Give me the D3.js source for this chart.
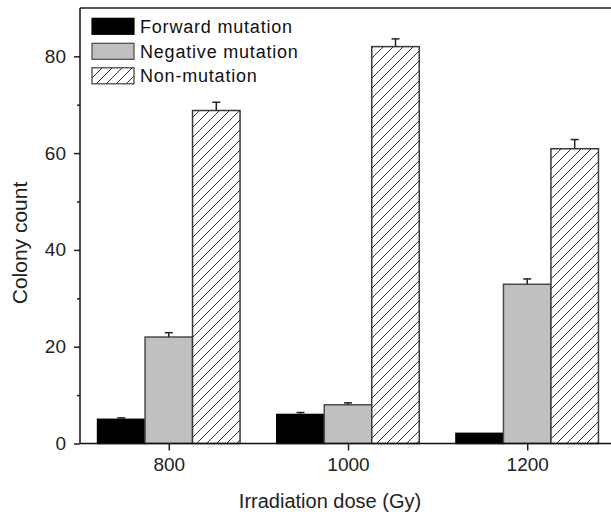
<!DOCTYPE html>
<html><head><meta charset="utf-8">
<script src="https://cdn.jsdelivr.net/npm/d3@7"></script>
<style>
html,body{margin:0;padding:0;background:#fff;}
svg{display:block;font-family:Arial,"Liberation Sans",sans-serif;}
</style></head>
<body><svg id="c" width="611" height="519"></svg>
<script>
const doses = [800, 1000, 1200];
const seriesNames = ["Forward mutation", "Negative mutation", "Non-mutation"];
const forward = [5.0, 6.0, 2.1];
const forwardErr = [0.3, 0.4, 0];
const negative = [22.0, 8.0, 32.9];
const negativeErr = [0.9, 0.4, 1.1];
const nonMutation = [68.8, 82.0, 60.9];
const nonMutationErr = [1.7, 1.6, 1.9];
const yTicks = [0, 20, 40, 60, 80];
const yMinorTicks = [10, 30, 50, 70];

(function(){
const svg = d3.select("#c");
const W = 611, H = 519;
const mLeft = 80, mTop = 8, mBottom = 443.5;

const defs = svg.append("defs");
const pat = defs.append("pattern").attr("id","hatch").attr("patternUnits","userSpaceOnUse")
  .attr("width",10).attr("height",10);
pat.append("rect").attr("width",10).attr("height",10).attr("fill","#fff");
pat.append("path").attr("d","M0,10 L10,0 M-2.5,2.5 L2.5,-2.5 M7.5,12.5 L12.5,7.5")
  .attr("stroke","#333").attr("stroke-width",1);

const x = d3.scaleLinear().domain([800,1200]).range([168.8, 527.2]);
const y = d3.scaleLinear().domain([0,90]).range([mBottom, mBottom - 90*4.84]);
const bw = 47.5;

const series = [
  {vals: forward, err: forwardErr, fill: "#000", stroke: "#000"},
  {vals: negative, err: negativeErr, fill: "#c0c0c0", stroke: "#4a4a4a"},
  {vals: nonMutation, err: nonMutationErr, fill: "url(#hatch)", stroke: "#3a3a3a"}
];

series.forEach((s, si) => {
  const g = svg.append("g");
  g.selectAll("rect").data(doses).enter().append("rect")
    .attr("x", (d) => x(d) + (si - 1.5) * bw)
    .attr("y", (d, i) => y(s.vals[i]))
    .attr("width", bw)
    .attr("height", (d, i) => y(0) - y(s.vals[i]))
    .attr("fill", s.fill).attr("stroke", s.stroke).attr("stroke-width", 1.5);
  doses.forEach((d, i) => {
    if (!s.err[i]) return;
    const cx = x(d) + (si - 1) * bw;
    g.append("line").attr("x1", cx).attr("x2", cx)
      .attr("y1", y(s.vals[i])).attr("y2", y(s.vals[i] + s.err[i]))
      .attr("stroke", "#222").attr("stroke-width", 1.5);
    g.append("line").attr("x1", cx - 4).attr("x2", cx + 4)
      .attr("y1", y(s.vals[i] + s.err[i])).attr("y2", y(s.vals[i] + s.err[i]))
      .attr("stroke", "#222").attr("stroke-width", 1.5);
  });
});

// frame
svg.append("line").attr("x1", mLeft).attr("x2", W).attr("y1", mTop).attr("y2", mTop)
  .attr("stroke", "#222").attr("stroke-width", 1.5);

// y axis
const yAxis = d3.axisLeft(y).tickValues(yTicks).tickSize(6).tickPadding(8).tickFormat(d3.format("d"));
const ya = svg.append("g").attr("transform", `translate(${mLeft},0)`).call(yAxis);
ya.select(".domain").remove();
ya.selectAll("text").attr("font-size", 19).attr("fill", "#222").attr("font-family", "Arial, 'Liberation Sans', sans-serif");
ya.selectAll("line").attr("stroke", "#222").attr("stroke-width", 1.5);
const ym = svg.append("g").attr("transform", `translate(${mLeft},0)`)
  .call(d3.axisLeft(y).tickValues(yMinorTicks).tickSize(3).tickFormat(""));
ym.select(".domain").remove();
ym.selectAll("line").attr("stroke", "#222").attr("stroke-width", 1.5);
svg.append("line").attr("x1", mLeft).attr("x2", mLeft).attr("y1", mTop).attr("y2", mBottom)
  .attr("stroke", "#111").attr("stroke-width", 1.5);

// x axis
const xAxis = d3.axisBottom(x).tickValues(doses).tickSize(7).tickPadding(7).tickFormat(d3.format("d"));
const xa = svg.append("g").attr("transform", `translate(0,${mBottom})`).call(xAxis);
xa.select(".domain").remove();
xa.selectAll("text").attr("font-size", 19).attr("fill", "#222").attr("font-family", "Arial, 'Liberation Sans', sans-serif");
xa.selectAll("line").attr("stroke", "#222").attr("stroke-width", 1.5);
svg.append("line").attr("x1", mLeft).attr("x2", W).attr("y1", mBottom).attr("y2", mBottom)
  .attr("stroke", "#111").attr("stroke-width", 1.5);

// titles
svg.append("text").attr("x", 330).attr("y", 508).attr("text-anchor", "middle")
  .attr("font-size", 20).attr("fill", "#222").text("Irradiation dose (Gy)");
svg.append("text").attr("transform", "translate(27,243) rotate(-90)").attr("text-anchor", "middle")
  .attr("font-size", 21).attr("fill", "#222").text("Colony count");

// legend
const legY = [26.3, 51.3, 75.8];
const leg = svg.append("g");
series.forEach((s, i) => {
  leg.append("rect").attr("x", 92).attr("y", legY[i] - 8).attr("width", 42).attr("height", 16)
    .attr("fill", s.fill).attr("stroke", s.stroke).attr("stroke-width", 1.2);
  leg.append("text").attr("x", 140).attr("y", legY[i] + 6.5)
    .attr("font-size", 18).attr("letter-spacing", 0.8).attr("fill", "#111").text(seriesNames[i]);
});
})();
</script>
</body></html>
